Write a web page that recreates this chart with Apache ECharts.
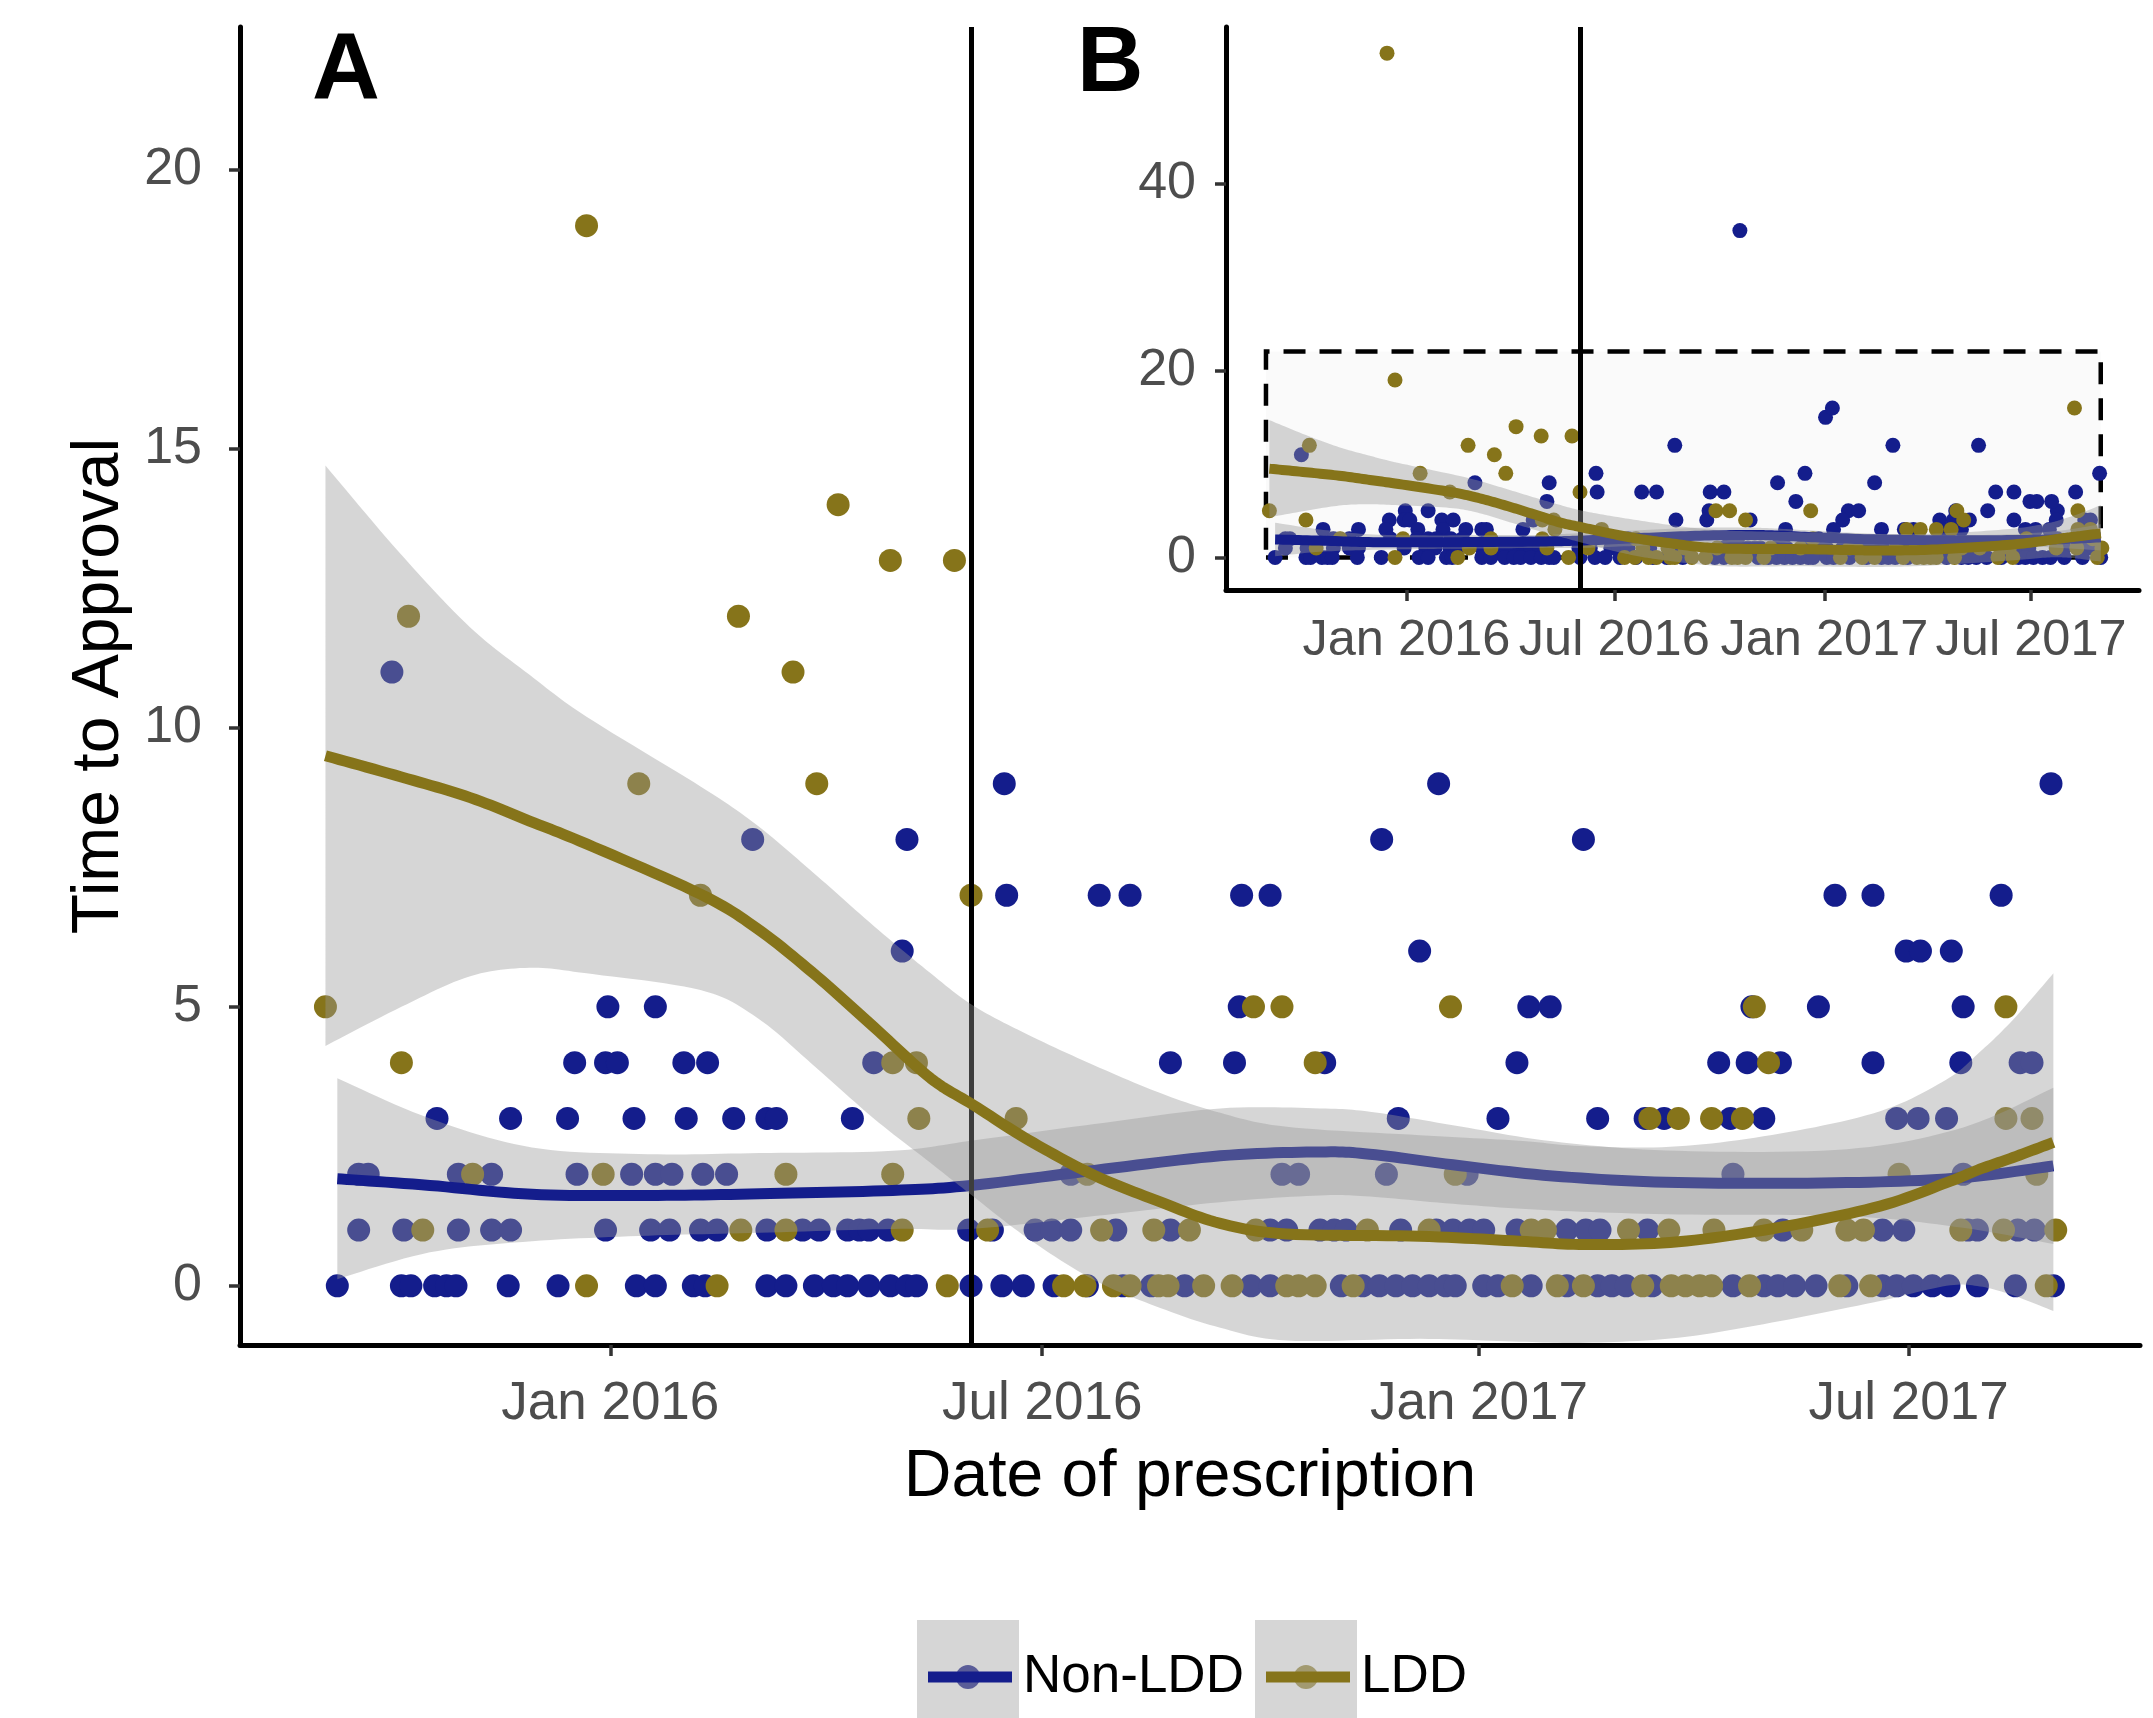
<!DOCTYPE html>
<html><head><meta charset="utf-8">
<script src="https://cdn.jsdelivr.net/npm/echarts@6/dist/echarts.min.js"></script>
<style>html,body{margin:0;padding:0;background:#fff}#c{width:2153px;height:1718px}</style>
</head><body><div id="c"></div>
<script>
// ---------- data ----------
const nonLddPoints = [
 ['2015-12-31',5],['2016-01-20',5],
 ['2015-12-17',4],['2015-12-30',4],['2016-01-04',4],['2016-02-01',4],['2016-02-11',4],
 ['2015-10-20',3],['2015-11-20',3],['2015-12-14',3],['2016-01-11',3],['2016-02-02',3],['2016-02-22',3],
 ['2015-09-17',2],['2015-09-21',2],['2015-10-29',2],['2015-11-12',2],['2015-12-18',2],['2016-01-10',2],['2016-01-20',2],['2016-01-27',2],['2016-02-09',2],['2016-02-19',2],
 ['2015-09-17',1],['2015-10-06',1],['2015-10-29',1],['2015-11-12',1],['2015-11-20',1],['2015-12-30',1],['2016-01-18',1],['2016-01-26',1],['2016-02-08',1],['2016-02-15',1],
 ['2015-09-08',0],['2015-10-05',0],['2015-10-09',0],['2015-10-19',0],['2015-10-24',0],['2015-10-28',0],['2015-11-19',0],['2015-12-10',0],['2016-01-12',0],['2016-01-20',0],['2016-02-05',0],['2016-02-10',0],
 ['2016-04-21',4],['2016-08-24',4],
 ['2016-03-07',3],['2016-03-11',3],['2016-04-12',3],
 ['2016-07-13',2],
 ['2016-03-07',1],['2016-03-22',1],['2016-03-29',1],['2016-04-10',1],['2016-04-15',1],['2016-04-19',1],['2016-04-27',1],['2016-05-31',1],['2016-06-10',1],['2016-06-28',1],['2016-07-05',1],['2016-07-13',1],['2016-08-01',1],['2016-08-24',1],
 ['2016-03-07',0],['2016-03-15',0],['2016-03-27',0],['2016-04-04',0],['2016-04-10',0],['2016-04-19',0],['2016-04-28',0],['2016-05-05',0],['2016-05-09',0],['2016-06-01',0],['2016-06-14',0],['2016-06-23',0],['2016-07-06',0],['2016-07-20',0],['2016-08-04',0],['2016-08-16',0],['2016-08-30',0],
 ['2016-09-22',5],['2017-01-22',5],['2017-01-31',5],
 ['2016-09-20',4],['2016-10-28',4],['2017-01-17',4],
 ['2016-11-28',3],['2017-01-09',3],['2017-02-20',3],['2017-03-12',3],['2017-03-20',3],
 ['2016-10-10',2],['2016-10-17',2],['2016-11-23',2],['2016-12-27',2],
 ['2016-10-05',1],['2016-10-12',1],['2016-10-26',1],['2016-11-01',1],['2016-11-06',1],['2016-11-29',1],['2016-12-14',1],['2016-12-21',1],['2016-12-28',1],['2017-01-03',1],['2017-01-17',1],['2017-02-07',1],['2017-02-15',1],['2017-02-21',1],['2017-03-13',1],
 ['2016-09-27',0],['2016-10-05',0],['2016-11-04',0],['2016-11-13',0],['2016-11-20',0],['2016-11-27',0],['2016-12-04',0],['2016-12-11',0],['2016-12-18',0],['2016-12-22',0],['2017-01-03',0],['2017-01-09',0],['2017-01-23',0],['2017-02-07',0],['2017-02-20',0],['2017-02-26',0],['2017-03-04',0],['2017-03-15',0],
 ['2017-04-26',5],['2017-05-24',5],['2017-07-24',5],
 ['2017-04-12',4],['2017-04-24',4],['2017-05-08',4],['2017-06-16',4],['2017-07-23',4],['2017-08-17',4],['2017-08-22',4],
 ['2017-04-17',3],['2017-05-01',3],['2017-06-26',3],['2017-07-05',3],['2017-07-17',3],
 ['2017-04-18',2],['2017-07-24',2],
 ['2017-05-09',1],['2017-06-20',1],['2017-06-29',1],['2017-07-26',1],['2017-07-30',1],['2017-08-16',1],['2017-08-23',1],
 ['2017-04-18',0],['2017-05-01',0],['2017-05-07',0],['2017-05-14',0],['2017-05-23',0],['2017-06-05',0],['2017-06-20',0],['2017-06-26',0],['2017-07-03',0],['2017-07-11',0],['2017-07-18',0],['2017-07-30',0],['2017-08-15',0],['2017-08-31',0],
 ['2015-10-01',11],
 ['2016-06-15',9],['2016-12-15',9],['2017-08-30',9],
 ['2016-03-01',8],['2016-05-05',8],['2016-11-21',8],['2017-02-14',8],
 ['2016-06-16',7],['2016-07-25',7],['2016-08-07',7],['2016-09-23',7],['2016-10-05',7],['2017-05-31',7],['2017-06-16',7],['2017-08-09',7],
 ['2016-05-03',6],['2016-12-07',6],['2017-06-30',6],['2017-07-06',6],['2017-07-19',6]
];
const lddPoints = [
 ['2015-09-03',5],['2015-10-05',4],['2015-11-04',2],['2015-12-29',2],['2015-10-14',1],['2016-02-25',1],['2015-12-22',0],['2016-02-15',0],
 ['2016-04-29',4],['2016-05-09',4],['2016-05-10',3],['2016-06-20',3],['2016-03-15',2],['2016-04-29',2],['2016-07-20',2],
 ['2016-03-15',1],['2016-05-03',1],['2016-06-08',1],['2016-07-26',1],['2016-08-17',1],['2016-09-01',1],
 ['2016-05-22',0],['2016-07-10',0],['2016-07-19',0],['2016-07-31',0],['2016-08-07',0],['2016-08-19',0],['2016-08-23',0],['2016-09-07',0],
 ['2016-09-28',5],['2016-10-10',5],['2016-12-20',5],['2016-10-24',4],['2017-03-14',3],['2016-12-22',2],
 ['2016-09-29',1],['2016-11-15',1],['2016-12-11',1],['2017-01-23',1],['2017-01-29',1],['2017-03-05',1],['2017-03-22',1],
 ['2016-09-19',0],['2016-10-12',0],['2016-10-17',0],['2016-10-24',0],['2016-11-09',0],['2017-01-15',0],['2017-02-03',0],['2017-02-14',0],['2017-03-11',0],['2017-03-23',0],
 ['2017-04-27',5],['2017-08-11',5],['2017-05-03',4],
 ['2017-03-26',3],['2017-04-09',3],['2017-04-22',3],['2017-08-11',3],['2017-08-22',3],
 ['2017-06-27',2],['2017-08-24',2],
 ['2017-04-10',1],['2017-05-01',1],['2017-05-17',1],['2017-06-05',1],['2017-06-12',1],['2017-07-23',1],['2017-08-10',1],['2017-09-01',1],
 ['2017-03-29',0],['2017-04-04',0],['2017-04-09',0],['2017-04-25',0],['2017-06-02',0],['2017-06-15',0],['2017-08-28',0],
 ['2015-12-22',19],['2016-04-06',14],['2016-04-28',13],['2016-05-25',13],['2015-10-08',12],['2016-02-24',12],['2016-03-18',11],
 ['2016-01-13',9],['2016-03-28',9],['2016-02-08',7],['2016-06-01',7]
];
// extra points only visible in inset B
const insetExtraNon = [['2016-10-19',35],['2017-01-02',15],['2017-01-08',16],['2016-08-23',12],['2017-03-02',12],['2017-05-16',12]];
const insetExtraLdd = [['2015-12-15',54],['2017-08-08',16]];

// smoothed fits and confidence bands
const lddFitDates = ['2015-09-03','2015-10-05','2015-11-03','2015-11-28','2015-12-22','2016-02-08','2016-03-03','2016-03-28','2016-04-21','2016-05-15','2016-06-02','2016-06-25','2016-07-23','2016-08-20','2016-09-14','2016-10-12','2016-12-07','2017-01-18','2017-02-15','2017-03-26','2017-05-08','2017-06-19','2017-07-17','2017-07-31','2017-08-14','2017-08-31'];
const lddFit   = [9.5,9.12,8.75,8.33,7.92,7.02,6.4,5.55,4.64,3.72,3.24,2.62,1.98,1.5,1.12,0.93,0.89,0.8,0.74,0.79,1.05,1.43,1.85,2.09,2.3,2.57];
const lddLower = [4.3,5.0,5.55,5.7,5.6,5.3,4.8,3.9,3.0,2.2,1.6,0.85,0.1,-0.4,-0.75,-0.98,-0.95,-1.0,-1.02,-0.93,-0.63,-0.27,0.0,-0.01,-0.17,-0.45];
const lddUpper = [14.7,13.1,11.8,10.95,10.2,8.95,8.25,7.35,6.45,5.6,5.02,4.5,3.95,3.45,3.1,2.85,2.7,2.6,2.5,2.5,2.73,3.13,3.7,4.19,4.77,5.6];
const nonFitDates = ['2015-09-08','2015-10-17','2015-11-29','2016-01-17','2016-03-04','2016-04-29','2016-06-01','2016-07-23','2016-09-14','2016-10-26','2016-11-16','2016-12-21','2017-02-01','2017-03-26','2017-06-05','2017-07-24','2017-08-31'];
const nonFit   = [1.92,1.8,1.64,1.62,1.65,1.71,1.8,2.07,2.33,2.4,2.36,2.17,1.97,1.85,1.85,1.94,2.15];
const nonLower = [0.12,0.6,0.8,0.9,0.95,1.02,1.02,1.25,1.5,1.62,1.6,1.47,1.35,1.28,1.25,1.04,0.75];
const nonUpper = [3.72,3.0,2.48,2.36,2.38,2.42,2.6,2.9,3.18,3.18,3.12,2.88,2.59,2.42,2.45,2.84,3.55];

const xTickDates = ['2016-01-01','2016-07-01','2017-01-01','2017-07-01'];
const yTicksMain = [0,5,10,15,20];
const yTicksInset = [0,20,40];
const cutDate = '2016-06-01';
const boxRange = [['2015-08-31',0],['2017-08-31',22.06]];
const seriesNames = ['Non-LDD','LDD'];

// ---------- helpers ----------
const NAVY = '#141d8c', OLIVE = '#86741a';
const FONT = '"Liberation Sans", Arial, sans-serif';
const MONTHS = ['Jan','Feb','Mar','Apr','May','Jun','Jul','Aug','Sep','Oct','Nov','Dec'];
function d(s){ const p = s.split('-'); return Date.UTC(+p[0], +p[1]-1, +p[2]); }
const HOUR = 3600000;
const xTicks = xTickDates.map(d);
const fmtDate = v => { const t = new Date(v); return MONTHS[t.getUTCMonth()] + ' ' + t.getUTCFullYear(); };

// Catmull-Rom rendering curve through screen points (rendering only)
function curve(pts, n){
  const out = [];
  for (let i = 0; i < pts.length - 1; i++){
    const p0 = pts[i-1] || pts[i], p1 = pts[i], p2 = pts[i+1], p3 = pts[i+2] || pts[i+1];
    for (let k = 0; k < n; k++){
      const t = k / n, t2 = t*t, t3 = t2*t;
      out.push([0,1].map(j => 0.5*((2*p1[j]) + (-p0[j]+p2[j])*t + (2*p0[j]-5*p1[j]+4*p2[j]-p3[j])*t2 + (-p0[j]+3*p1[j]-3*p2[j]+p3[j])*t3)));
    }
  }
  out.push(pts[pts.length-1]);
  return out;
}

function xAxisCfg(grid, min, max, name, nameGap, margin, fs){
  return {
    type:'value', gridIndex:grid, min:min, max:max, scale:true,
    name:name, nameLocation:'middle', nameGap:nameGap,
    nameTextStyle:{fontSize:66, color:'#000', fontFamily:FONT},
    axisLine:{show:true, onZero:false, lineStyle:{color:'#000', width:5}},
    axisTick:{show:true, customValues:xTicks, length:11, lineStyle:{color:'#333', width:3.5}},
    axisLabel:{show:true, customValues:xTicks, formatter:fmtDate, fontSize:fs, color:'#4d4d4d', margin:margin, fontFamily:FONT, hideOverlap:false, showMinLabel:true, showMaxLabel:true},
    splitLine:{show:false}
  };
}
function yAxisCfg(grid, min, max, ticks, name, nameGap, margin){
  return {
    type:'value', gridIndex:grid, min:min, max:max,
    name:name, nameLocation:'middle', nameGap:nameGap, nameRotate:90,
    nameTextStyle:{fontSize:66, color:'#000', fontFamily:FONT},
    axisLine:{show:true, onZero:false, lineStyle:{color:'#000', width:5}},
    axisTick:{show:true, customValues:ticks, length:11, lineStyle:{color:'#333', width:3.5}},
    axisLabel:{show:true, customValues:ticks, fontSize:52, color:'#4d4d4d', margin:margin, fontFamily:FONT},
    splitLine:{show:false}
  };
}
function bandSeries(ax, dates, lower, upper, z){
  return {
    type:'custom', xAxisIndex:ax, yAxisIndex:ax, coordinateSystem:'cartesian2d', silent:true, clip:true, z:z,
    data:dates.map((t,i)=>[d(t), lower[i], upper[i]]),
    encode:{x:0, y:[1,2]},
    renderItem:(params, api) => {
      if (params.dataIndex !== 0) return {type:'group', children:[]};
      const up = dates.map((t,i)=>api.coord([d(t), upper[i]]));
      const lo = dates.map((t,i)=>api.coord([d(t), lower[i]]));
      const pts = curve(up, 12).concat(curve(lo, 12).reverse());
      return {type:'polygon', shape:{points:pts}, style:{fill:'rgba(153,153,153,0.4)', stroke:null}};
    }
  };
}
function fitSeries(ax, dates, vals, color, width, z){
  return {
    type:'custom', xAxisIndex:ax, yAxisIndex:ax, coordinateSystem:'cartesian2d', silent:true, clip:true, z:z,
    data:dates.map((t,i)=>[d(t), vals[i]]),
    encode:{x:0, y:1},
    renderItem:(params, api) => {
      if (params.dataIndex !== 0) return {type:'group', children:[]};
      const pts = dates.map((t,i)=>api.coord([d(t), vals[i]]));
      return {type:'polyline', shape:{points:curve(pts, 12)}, style:{stroke:color, lineWidth:width, fill:null, lineJoin:'round'}};
    }
  };
}
function scatter(ax, pts, color, size, z){
  return {type:'scatter', xAxisIndex:ax, yAxisIndex:ax, symbolSize:size, silent:true,
    itemStyle:{color:color, opacity:1}, data:pts.map(p=>[d(p[0]), p[1]]), z:z};
}
function vline(ax, z, withBox){
  const s = {type:'line', xAxisIndex:ax, yAxisIndex:ax, data:[[d(cutDate), null]], symbol:'none', silent:true, z:z,
    markLine:{silent:true, symbol:['none','none'], label:{show:false}, animation:false,
      lineStyle:{color:'#000', width:5, type:'solid'}, data:[{xAxis:d(cutDate)}]}};
  if (withBox) s.markArea = {silent:true, animation:false,
      itemStyle:{color:'rgba(0,0,0,0.018)', borderColor:'#000', borderWidth:4.5, borderType:[22,14]},
      data:[[{xAxis:d(boxRange[0][0]), yAxis:boxRange[0][1]}, {xAxis:d(boxRange[1][0]), yAxis:boxRange[1][1]}]]};
  return s;
}

const insetNon = nonLddPoints.concat(insetExtraNon);
const insetLdd = lddPoints.concat(insetExtraLdd);

const series = [
  scatter(0, nonLddPoints, NAVY, 23, 2),
  scatter(0, lddPoints, OLIVE, 23, 2),
  bandSeries(0, nonFitDates, nonLower, nonUpper, 3),
  fitSeries(0, nonFitDates, nonFit, NAVY, 11, 4),
  bandSeries(0, lddFitDates, lddLower, lddUpper, 5),
  fitSeries(0, lddFitDates, lddFit, OLIVE, 11, 6),
  vline(0, 7, false),
  scatter(1, insetNon, NAVY, 15, 2),
  scatter(1, insetLdd, OLIVE, 15, 2),
  bandSeries(1, nonFitDates, nonLower, nonUpper, 3),
  fitSeries(1, nonFitDates, nonFit, NAVY, 10, 4),
  bandSeries(1, lddFitDates, lddLower, lddUpper, 5),
  fitSeries(1, lddFitDates, lddFit, OLIVE, 10, 6),
  vline(1, 7, true)
];

const legendItems = [];
[[917, NAVY, '#5a5d98', seriesNames[0]], [1255, OLIVE, '#a29a70', seriesNames[1]]].forEach(([x, col, light, txt]) => {
  legendItems.push({type:'rect', left:x, top:1620, shape:{width:102, height:98}, style:{fill:'#d6d6d6'}, z:1});
  legendItems.push({type:'circle', shape:{cx:x+51, cy:1677, r:12}, style:{fill:light}, z:2});
  legendItems.push({type:'line', shape:{x1:x+11, y1:1677, x2:x+95, y2:1677}, style:{stroke:col, lineWidth:11}, z:3});
  legendItems.push({type:'text', left:x+106, top:1651, style:{text:txt, fontSize:53, fill:'#000', fontFamily:FONT}, z:3});
});

const option = {
  animation:false,
  backgroundColor:'#fff',
  grid:[
    {left:240, right:13, top:27, bottom:373, containLabel:false},
    {left:1226, right:14, top:27, bottom:1128, containLabel:false}
  ],
  xAxis:[
    xAxisCfg(0, d('2015-07-29'), d('2017-10-06')+12*HOUR, 'Date of prescription', 100, 33, 53),
    xAxisCfg(1, d('2015-07-27'), d('2017-10-03')+12*HOUR, '', 10, 26, 50.5)
  ],
  yAxis:[
    yAxisCfg(0, -1.06, 22.56, yTicksMain, 'Time to Approval', 105, 38),
    yAxisCfg(1, -3.49, 56.8, yTicksInset, '', 10, 30)
  ],
  series:series,
  graphic:[
    {type:'text', left:312, top:26, style:{text:'A', fontSize:94, fontWeight:'bold', fill:'#000', fontFamily:FONT}, z:20},
    {type:'text', left:1077, top:20, style:{text:'B', fontSize:92, fontWeight:'bold', fill:'#000', fontFamily:FONT}, z:20},
    ...legendItems
  ]
};
const chart = echarts.init(document.getElementById('c'), null, {renderer:'canvas'});
chart.setOption(option);
</script>
</body></html>
